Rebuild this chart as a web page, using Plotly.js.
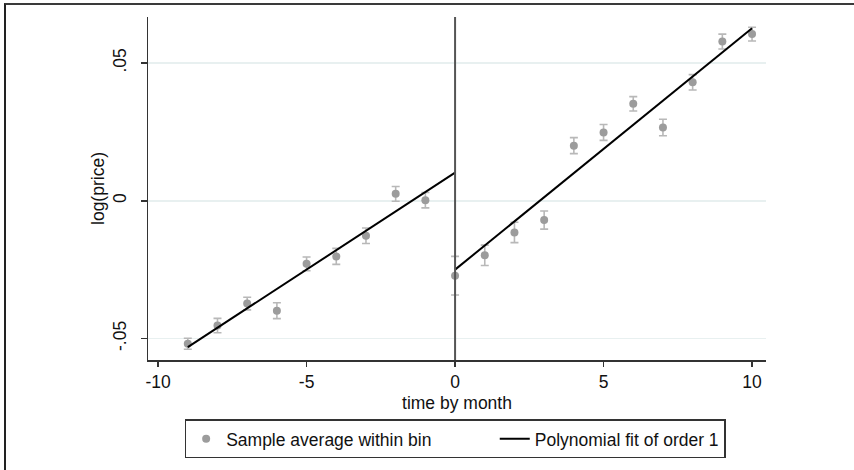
<!DOCTYPE html>
<html>
<head>
<meta charset="utf-8">
<script src="https://cdn.plot.ly/plotly-3.0.1.min.js"></script>
<style>
  html, body { margin: 0; padding: 0; background: #fff; }
  #wrap { position: relative; width: 854px; height: 470px; }
  #chart { width: 854px; height: 470px; }
  #frame { position: absolute; left: 4px; top: 3px; width: 850px; height: 467px;
           border-top: 2px solid #3a3a3a; border-left: 2px solid #222; pointer-events: none; box-sizing: border-box; }
</style>
</head>
<body>
<div id="wrap">
  <div id="chart"></div>
  <div id="frame"></div>
</div>
<script>
// Bins (months relative to cutoff) and sample averages of log(price)
const binMonths = [-9, -8, -7, -6, -5, -4, -3, -2, -1, 0, 1, 2, 3, 4, 5, 6, 7, 8, 9, 10];
const binMeans  = [-0.0519, -0.0453, -0.0373, -0.0399, -0.0229, -0.0202, -0.0127, 0.0025, 0.0002, -0.0272,
                   -0.0198, -0.0115, -0.0070, 0.0200, 0.0248, 0.0352, 0.0266, 0.0430, 0.0578, 0.0605];
const binErrors = [0.0020, 0.0026, 0.0023, 0.0029, 0.0025, 0.0029, 0.0028, 0.0027, 0.0028, 0.0070,
                   0.0037, 0.0037, 0.0033, 0.0029, 0.0029, 0.0026, 0.0030, 0.0028, 0.0027, 0.0025];

// Linear fits on each side of the cutoff
const fitLeftX  = [-9, 0];
const fitLeftY  = [-0.0531, 0.0102];
const fitRightX = [0, 10];
const fitRightY = [-0.0250, 0.0626];

const cutoff = 0;

// Axis ticks
const xTickVals = [-10, -5, 0, 5, 10];
const xTickText = ['-10', '-5', '0', '5', '10'];
const yTickVals = [-0.05, 0, 0.05];
const yTickText = ['-.05', '0', '.05'];

// Legend labels
const seriesNames = ['Sample average within bin', 'Polynomial fit of order 1'];

const font = 'Liberation Sans, Arial, sans-serif';
const fs = 17.5;
const txt = '#111';
const pad = '\u00A0'.repeat(12);

const traces = [
  {
    x: binMonths, y: binMeans, type: 'scatter', mode: 'markers',
    name: seriesNames[0] + pad,
    marker: { color: '#9c9c9c', size: 8, symbol: 'circle' },
    error_y: { type: 'data', array: binErrors, visible: true, color: '#b8b8b8', thickness: 1.6, width: 4 }
  },
  {
    x: fitLeftX, y: fitLeftY, type: 'scatter', mode: 'lines',
    name: seriesNames[1], legendgroup: 'fit',
    line: { color: '#000', width: 2 }
  },
  {
    x: fitRightX, y: fitRightY, type: 'scatter', mode: 'lines',
    name: seriesNames[1], legendgroup: 'fit', showlegend: false,
    line: { color: '#000', width: 2 }
  }
];

const layout = {
  width: 854, height: 470,
  margin: { l: 148, r: 88, t: 17, b: 107 },
  paper_bgcolor: '#fff', plot_bgcolor: '#fff',
  font: { family: font, size: fs, color: txt },
  showlegend: true,
  legend: {
    orientation: 'h', x: 0.497, xanchor: 'center', y: -0.173, yanchor: 'top',
    bordercolor: '#333', borderwidth: 1.5, font: { family: font, size: fs, color: txt },
    traceorder: 'normal', itemwidth: 30
  },
  xaxis: {
    range: [-10.34, 10.47], tickmode: 'array', tickvals: xTickVals, ticktext: xTickText,
    showgrid: false, zeroline: false, showline: true, linecolor: '#333', linewidth: 1.5,
    ticks: 'outside', ticklen: 5, tickwidth: 1.5, tickcolor: '#333',
    tickfont: { family: font, size: fs, color: txt },
    title: { text: 'time by month', font: { family: font, size: fs, color: txt }, standoff: 6 },
    automargin: false
  },
  yaxis: {
    range: [-0.0578, 0.0667], tickmode: 'array', tickvals: yTickVals, ticktext: yTickText,
    tickangle: -90,
    showgrid: true, gridcolor: '#e8f0f0', gridwidth: 1.5,
    zeroline: false, showline: true, linecolor: '#333', linewidth: 1.5,
    ticks: 'outside', ticklen: 6, tickwidth: 1.5, tickcolor: '#333',
    ticklabelstandoff: 8,
    tickfont: { family: font, size: fs, color: txt },
    title: { text: 'log(price)', font: { family: font, size: fs, color: txt }, standoff: 0 },
    automargin: false
  },
  shapes: [
    { type: 'line', xref: 'x', yref: 'paper', x0: cutoff, x1: cutoff, y0: 0, y1: 1,
      line: { color: '#555', width: 2 }, layer: 'above' }
  ]
};

Plotly.newPlot('chart', traces, layout, { displayModeBar: false, staticPlot: true });
</script>
</body>
</html>
